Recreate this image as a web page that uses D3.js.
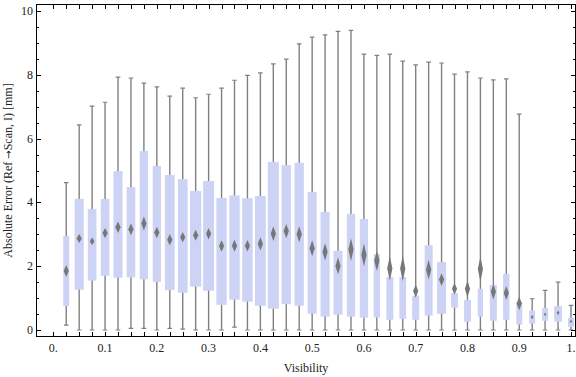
<!DOCTYPE html>
<html>
<head>
<meta charset="utf-8">
<script src="https://cdn.jsdelivr.net/npm/d3@7"></script>
<style>
  html, body { margin: 0; padding: 0; background: #fff; }
  svg { display: block; }
  text { font-family: "Liberation Serif", "Times New Roman", serif; }
</style>
</head>
<body>
<svg id="chart" width="576" height="377"></svg>
<script>
const visibility = [0.025,0.05,0.075,0.1,0.125,0.15,0.175,0.2,0.225,0.25,0.275,0.3,0.325,0.35,0.375,0.4,0.425,0.45,0.475,0.5,0.525,0.55,0.575,0.6,0.625,0.65,0.675,0.7,0.725,0.75,0.775,0.8,0.825,0.85,0.875,0.9,0.925,0.95,0.975,1.0];
const whiskerHigh = [4.62,6.43,7.02,7.14,7.93,7.90,7.74,7.62,7.33,7.58,7.28,7.39,7.58,7.83,7.98,8.06,8.34,8.49,8.97,9.18,9.25,9.36,9.39,8.65,8.61,8.65,8.43,8.31,8.40,8.37,8.02,8.09,7.90,7.84,7.87,6.77,0.98,1.24,1.50,0.77];
const whiskerLow = [0.15,0,0,0,0,0.05,0.05,0,0.05,0.03,0,0,0,0.09,0,0,0,0,0,0,0,0,0,0,0,0,0,0,0,0,0,0,0,0,0,0,0,0,0,0];
const q3 = [2.95,4.11,3.79,4.11,4.98,4.48,5.61,5.14,4.86,4.73,4.36,4.67,4.14,4.22,4.13,4.20,5.27,5.17,5.24,4.33,3.70,2.48,3.64,3.48,2.38,1.66,1.66,1.07,2.66,2.13,1.16,0.94,1.29,1.41,1.76,0.88,0.61,0.69,0.75,0.38];
const q1 = [0.75,1.26,1.55,1.70,1.64,1.65,1.59,1.51,1.25,1.17,1.36,1.23,0.79,0.95,0.89,0.76,0.67,0.81,0.76,0.51,0.42,0.48,0.42,0.39,0.39,0.32,0.35,0.32,0.45,0.51,0.70,0.26,0.42,0.29,0.32,0.17,0.20,0.29,0.26,0.10];
const meanVal = [1.85,2.87,2.78,3.04,3.22,3.16,3.34,3.06,2.83,2.91,2.97,3.02,2.63,2.64,2.64,2.70,3.02,3.10,3.00,2.56,2.45,2.01,2.52,2.35,2.17,1.93,1.93,1.22,1.89,1.58,1.29,1.29,1.91,1.20,1.16,0.83,0.41,0.49,0.54,0.27];
const meanSpread = [0.19,0.14,0.12,0.16,0.18,0.19,0.22,0.18,0.18,0.16,0.17,0.18,0.18,0.19,0.18,0.21,0.23,0.22,0.25,0.25,0.27,0.26,0.36,0.36,0.32,0.39,0.40,0.21,0.31,0.20,0.18,0.26,0.39,0.24,0.22,0.21,0.07,0.06,0.07,0.06];
const relWidth = [0.46,0.70,0.67,0.67,0.70,0.67,0.64,0.64,0.75,0.75,0.87,0.85,0.80,0.80,0.80,0.83,0.85,0.72,0.72,0.70,0.70,0.70,0.64,0.64,0.49,0.54,0.52,0.54,0.62,0.70,0.54,0.54,0.41,0.54,0.49,0.46,0.46,0.46,0.60,0.46];
const xTickValues = [0,0.1,0.2,0.3,0.4,0.5,0.6,0.7,0.8,0.9,1.0];
const xTickLabels = ["0.","0.1","0.2","0.3","0.4","0.5","0.6","0.7","0.8","0.9","1."];
const yTickValues = [0,2,4,6,8,10];
const xLabel = "Visibility";
const yLabelParts = ["Absolute Error (Ref ", "\u2192", "Scan, I) [mm]"];

const rows = visibility.map((v, i) => ({
  v, lo: whiskerLow[i], hi: whiskerHigh[i], q1: q1[i], q3: q3[i],
  mean: meanVal[i], spread: meanSpread[i], w: relWidth[i]
}));

const svg = d3.select("#chart");
const L = 36.5, R = 575.5, T = 4.5, B = 336.5;
const x = d3.scaleLinear().domain([-0.03245, 1.00869]).range([L, R]);
const y = d3.scaleLinear().domain([-0.2038, 10.204]).range([B, T]);
const step = x(visibility[1]) - x(visibility[0]);

const defs = svg.append("defs");
defs.append("filter").attr("id", "soft").attr("x", "-50%").attr("y", "-50%").attr("width", "200%").attr("height", "200%")
  .append("feGaussianBlur").attr("stdDeviation", 0.6);
defs.append("clipPath").attr("id", "plotclip").append("rect")
  .attr("x", L).attr("y", T).attr("width", R - L).attr("height", B - T);

const plot = svg.append("g").attr("clip-path", "url(#plotclip)");
const whiskerColor = "#808080";
const capHalf = 2.3;

const g = plot.selectAll("g.bw").data(rows).join("g").attr("class", "bw");
g.append("line")
  .attr("x1", d => x(d.v)).attr("x2", d => x(d.v))
  .attr("y1", d => y(d.lo)).attr("y2", d => y(d.hi))
  .attr("stroke", whiskerColor).attr("stroke-width", 1.4);
g.append("line")
  .attr("x1", d => x(d.v) - capHalf).attr("x2", d => x(d.v) + capHalf)
  .attr("y1", d => y(d.hi)).attr("y2", d => y(d.hi))
  .attr("stroke", whiskerColor).attr("stroke-width", 1.2);
g.append("line")
  .attr("x1", d => x(d.v) - capHalf).attr("x2", d => x(d.v) + capHalf)
  .attr("y1", d => y(d.lo)).attr("y2", d => y(d.lo))
  .attr("stroke", whiskerColor).attr("stroke-width", 1.2);
g.append("rect")
  .attr("x", d => x(d.v) - d.w * step / 2)
  .attr("width", d => d.w * step)
  .attr("y", d => y(d.q3))
  .attr("height", d => y(d.q1) - y(d.q3))
  .attr("fill", "#ccd3f5");
g.append("path")
  .attr("d", d => {
    const cx = x(d.v), cy = y(d.mean);
    const hh = y(d.mean - d.spread) - cy;
    const hw = Math.min(2.6, hh * 0.6);
    return `M${cx},${cy - hh}L${cx + hw},${cy}L${cx},${cy + hh}L${cx - hw},${cy}Z`;
  })
  .attr("fill", "#777777")
  .attr("filter", "url(#soft)");

svg.append("rect").attr("x", L).attr("y", T).attr("width", R - L).attr("height", B - T)
  .attr("fill", "none").attr("stroke", "#000").attr("stroke-width", 1);

const xTicksAll = [0].concat(visibility);
svg.append("g").selectAll("line").data(xTicksAll).join("line")
  .attr("x1", d => Math.round(x(d)) + 0.5).attr("x2", d => Math.round(x(d)) + 0.5)
  .attr("y1", B).attr("y2", B - 4.5).attr("stroke", "#000").attr("stroke-width", 1);
svg.append("g").selectAll("line").data(xTicksAll).join("line")
  .attr("x1", d => Math.round(x(d)) + 0.5).attr("x2", d => Math.round(x(d)) + 0.5)
  .attr("y1", T).attr("y2", T + 4.5).attr("stroke", "#000").attr("stroke-width", 1);

const yMinor = d3.range(0, 10.01, 0.5).filter(v => yTickValues.indexOf(v) < 0);
function yTicks(vals, len) {
  svg.append("g").selectAll("line").data(vals).join("line")
    .attr("x1", L).attr("x2", L + len)
    .attr("y1", d => Math.round(y(d)) + 0.5).attr("y2", d => Math.round(y(d)) + 0.5)
    .attr("stroke", "#000").attr("stroke-width", 1);
  svg.append("g").selectAll("line").data(vals).join("line")
    .attr("x1", R).attr("x2", R - len)
    .attr("y1", d => Math.round(y(d)) + 0.5).attr("y2", d => Math.round(y(d)) + 0.5)
    .attr("stroke", "#000").attr("stroke-width", 1);
}
yTicks(yTickValues, 4.5);
yTicks(yMinor, 2.5);

svg.append("g").selectAll("text").data(xTickValues).join("text")
  .attr("x", d => x(d)).attr("y", 352)
  .attr("text-anchor", "middle").attr("font-size", 12).attr("fill", "#222")
  .text((d, i) => xTickLabels[i]);
svg.append("g").selectAll("text").data(yTickValues).join("text")
  .attr("x", 33).attr("y", d => y(d) + 4)
  .attr("text-anchor", "end").attr("font-size", 12).attr("fill", "#222")
  .text(d => d);

svg.append("text").attr("x", (L + R) / 2).attr("y", 372)
  .attr("text-anchor", "middle").attr("font-size", 12).attr("fill", "#222").text(xLabel);
const yl = svg.append("text").attr("transform", `translate(12,${(T + B) / 2}) rotate(-90)`)
  .attr("text-anchor", "middle").attr("font-size", 12).attr("fill", "#222");
yl.append("tspan").text(yLabelParts[0]);
yl.append("tspan").attr("font-family", "DejaVu Sans").attr("font-size", 10).text(yLabelParts[1]);
yl.append("tspan").text(yLabelParts[2]);
</script>
</body>
</html>
